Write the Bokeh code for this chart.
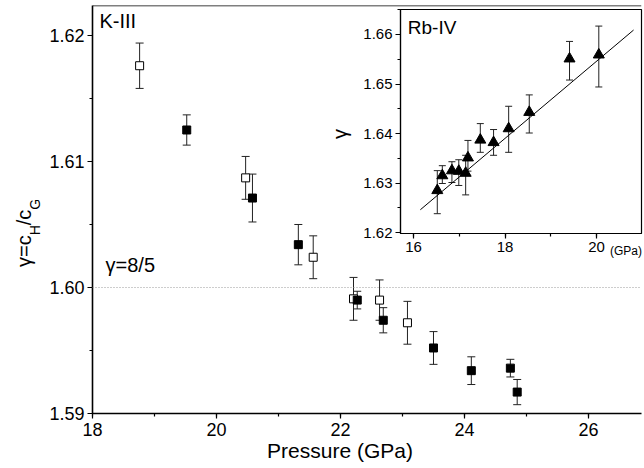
import math
from bokeh.plotting import figure
from bokeh.models import (ColumnDataSource, Whisker, TeeHead, Span, Label, Div,
                          SingleIntervalTicker, PrintfTickFormatter, GridBox, Range1d)
from bokeh.embed import file_html
from bokeh.resources import INLINE

# ---------------- data ----------------
# K-III, open squares
k_open_p = [18.76, 20.47, 21.56, 22.21, 22.63, 23.08]
k_open_g = [1.6176, 1.6087, 1.6024, 1.5991, 1.5990, 1.5972]
k_open_err = [0.0018, 0.0017, 0.0017, 0.0017, 0.0016, 0.0017]

# K-III, filled squares
k_fill_p = [19.52, 20.58, 21.32, 22.27, 22.69, 23.50, 24.11, 24.74, 24.85]
k_fill_g = [1.6125, 1.6071, 1.6034, 1.5990, 1.5974, 1.5952, 1.5934, 1.5936, 1.5917]
k_fill_err = [0.0012, 0.0019, 0.0016, 0.0007, 0.0010, 0.0013, 0.0011, 0.0007, 0.0010]

# Rb-IV (inset), triangles
rb_p = [16.52, 16.63, 16.84, 16.99, 17.14, 17.19, 17.46, 17.75, 18.08, 18.53, 19.41, 20.05]
rb_g = [1.6285, 1.6315, 1.6325, 1.6324, 1.6320, 1.6351, 1.6387, 1.6382, 1.6410, 1.6443, 1.6551, 1.6559]
rb_hi = [1.6325, 1.6335, 1.6343, 1.6347, 1.6356, 1.6386, 1.6420, 1.6408, 1.6455, 1.6478, 1.6586, 1.6617]
rb_lo = [1.6238, 1.6299, 1.6301, 1.6295, 1.6276, 1.6324, 1.6362, 1.6356, 1.6362, 1.6401, 1.6508, 1.6494]

# linear fit drawn in the inset (end points)
fit_p = [16.15, 20.81]
fit_g = [1.6246, 1.6609]

gamma_ref = 1.60  # gamma = 8/5

FONT = "Liberation Sans"
W, H = 644, 468
# shared borders (the grid aligns the plot frames, so all figures use the same)
BL, BR, BT, BB = 92, 3, 5, 55


def style_axes(fig, fs, lw, standoff_x, standoff_y):
    for ax in (fig.xaxis[0], fig.yaxis[0]):
        ax.axis_line_color = "black"
        ax.axis_line_width = lw
        ax.major_tick_in = 0
        ax.major_tick_out = 5
        ax.minor_tick_in = 0
        ax.minor_tick_out = 3
        ax.major_tick_line_width = 1.2
        ax.minor_tick_line_width = 1.2
        ax.major_label_text_font = FONT
        ax.major_label_text_font_size = fs
        ax.major_label_text_color = "black"
    fig.xaxis.major_label_standoff = standoff_x
    fig.yaxis.major_label_standoff = standoff_y


# ---------------- main figure ----------------
y_top = 1.62238
p = figure(width=W, height=H, output_backend="svg", toolbar_location=None,
           x_range=Range1d(18, 26.855), y_range=Range1d(1.59, y_top),
           min_border_left=BL, min_border_right=BR, min_border_top=BT, min_border_bottom=BB,
           background_fill_color="white", border_fill_color="white")
p.outline_line_color = None
p.xgrid.visible = False
p.ygrid.visible = False
p.xaxis.ticker = SingleIntervalTicker(interval=2, num_minor_ticks=2)
p.yaxis.ticker = SingleIntervalTicker(interval=0.01, num_minor_ticks=2)
p.yaxis.formatter = PrintfTickFormatter(format="%.2f")
style_axes(p, "18px", 1.6, 4, 3)

# top border line of main frame
p.add_layout(Span(location=y_top, dimension="width", line_color="black", line_width=1.6))

# reference line gamma = 8/5
p.add_layout(Span(location=gamma_ref, dimension="width", line_color="#9a9a9a",
                  line_width=1, line_dash="1 2"))

src_open = ColumnDataSource(dict(
    x=k_open_p, y=k_open_g,
    upper=[g + e for g, e in zip(k_open_g, k_open_err)],
    lower=[g - e for g, e in zip(k_open_g, k_open_err)]))
src_fill = ColumnDataSource(dict(
    x=k_fill_p, y=k_fill_g,
    upper=[g + e for g, e in zip(k_fill_g, k_fill_err)],
    lower=[g - e for g, e in zip(k_fill_g, k_fill_err)]))

for src in (src_open, src_fill):
    p.add_layout(Whisker(base="x", upper="upper", lower="lower", source=src,
                         line_color="#222222", line_width=1,
                         upper_head=TeeHead(size=8, line_color="#222222", line_width=1),
                         lower_head=TeeHead(size=8, line_color="#222222", line_width=1)))

p.scatter("x", "y", source=src_open, marker="square", size=8,
          fill_color="white", line_color="black", line_width=1)
p.scatter("x", "y", source=src_fill, marker="square", size=8,
          fill_color="black", line_color="black")

p.add_layout(Label(x=18.113, y=1.62024, text="K-III", text_font=FONT,
                   text_font_size="20px", text_color="black"))
p.add_layout(Label(x=18.21, y=1.60095, text="γ=8/5", text_font=FONT,
                   text_font_size="20px", text_color="black"))

# ---------------- inset ----------------
p2 = figure(width=W - 308, height=284, output_backend="svg", toolbar_location=None,
            margin=(4, 0, 0, 308),
            x_range=Range1d(15.716, 20.983), y_range=Range1d(1.6198, 1.66505),
            min_border_left=BL, min_border_right=BR, min_border_top=BT, min_border_bottom=BB,
            background_fill_color="white", border_fill_color=None)
p2.border_fill_alpha = 0
p2.outline_line_color = "black"
p2.outline_line_width = 1.2
p2.xgrid.visible = False
p2.ygrid.visible = False
p2.xaxis.ticker = SingleIntervalTicker(interval=2, num_minor_ticks=2)
p2.yaxis.ticker = SingleIntervalTicker(interval=0.01, num_minor_ticks=2)
p2.yaxis.formatter = PrintfTickFormatter(format="%.2f")
style_axes(p2, "15px", 1.2, 3, 3)

src_rb = ColumnDataSource(dict(x=rb_p, y=rb_g, upper=rb_hi, lower=rb_lo))
p2.add_layout(Whisker(base="x", upper="upper", lower="lower", source=src_rb,
                      line_color="#222222", line_width=1,
                      upper_head=TeeHead(size=7, line_color="#222222", line_width=1),
                      lower_head=TeeHead(size=7, line_color="#222222", line_width=1)))
p2.line(fit_p, fit_g, line_color="black", line_width=1)
p2.scatter("x", "y", source=src_rb, marker="triangle", size=11,
           fill_color="black", line_color="black")

p2.add_layout(Label(x=15.875, y=1.6592, text="Rb-IV", text_font=FONT,
                    text_font_size="19px", text_color="black"))

# ---------------- texts outside the plot frames (HTML, real text) ----------------
base_style = {"font-family": FONT, "color": "black", "white-space": "nowrap"}

ylab = Div(
    text=('γ=c<span style="font-size:14px;position:relative;top:9px">H</span>'
          '/c<span style="font-size:14px;position:relative;top:9px">G</span>'),
    width=80, height=20,
    styles=dict(base_style, **{"font-size": "20px", "line-height": "20px",
                               "transform-origin": "0 0",
                               "transform": "translate(9px, 262px) rotate(-90deg)"}))

xlab = Div(text="Pressure (GPa)", width=200, height=21, margin=(440, 0, 0, 240),
           styles=dict(base_style, **{"font-size": "21px", "line-height": "21px",
                                      "text-align": "center"}))

inset_ylab = Div(text="γ", width=12, height=20,
                 styles=dict(base_style, **{"font-size": "20px", "line-height": "20px",
                                            "transform-origin": "0 0",
                                            "transform": "translate(325px, 134px) rotate(-90deg)"}))

inset_unit = Div(text="(GPa)", width=34, height=12, margin=(245, 0, 0, 610),
                 styles=dict(base_style, **{"font-size": "12px", "line-height": "12px"}))

layout = GridBox(children=[(p, 0, 0), (p2, 0, 0), (ylab, 0, 0), (xlab, 0, 0),
                           (inset_ylab, 0, 0), (inset_unit, 0, 0)])

open("out.html", "w").write(file_html(layout, INLINE))
